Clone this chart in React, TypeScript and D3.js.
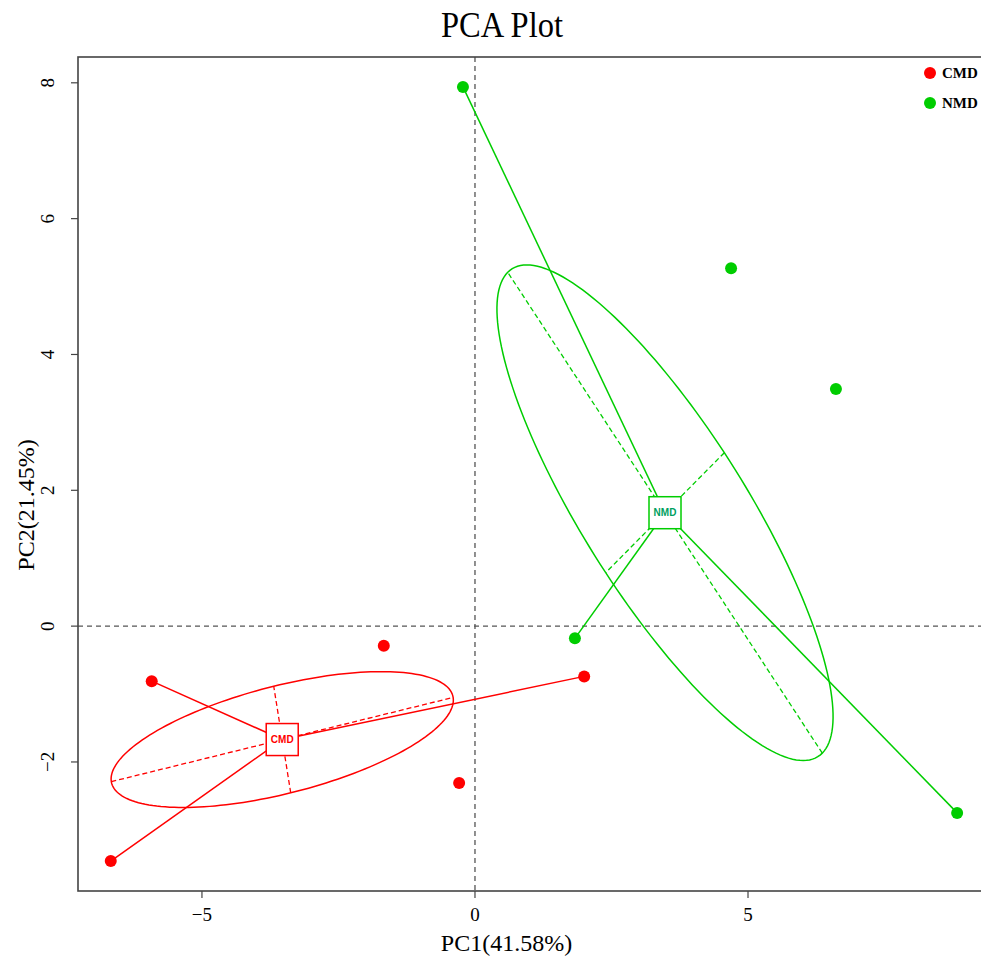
import React from "react";
import * as d3 from "d3";

// ---- data (PC1, PC2) ----
const groups = ["CMD", "NMD"];
const groupColors = ["#FF0000", "#00CD00"];
const labelColors = ["#FF0000", "#00A060"];

// samples: [PC1, PC2, connected-to-centroid flag]
const cmdSamples: [number, number, boolean][] = [
  [-5.92, -0.81, true],
  [-6.67, -3.46, true],
  [2.0, -0.74, true],
  [-1.67, -0.29, false],
  [-0.29, -2.31, false],
];
const nmdSamples: [number, number, boolean][] = [
  [-0.22, 7.94, true],
  [1.83, -0.18, true],
  [8.83, -2.75, true],
  [4.69, 5.27, false],
  [6.61, 3.49, false],
];

// ellipse: semi-major half-vector (data units) and semi-minor length
const cmdEllipse = { major: [3.13, 0.62], minor: 0.8 };
const nmdEllipse = { major: [-2.88, 3.54], minor: 1.4 };

const xTicks = [-5, 0, 5];
const yTicks = [-2, 0, 2, 4, 6, 8];
const xDomain = [-7.27, 9.45];
const yDomain = [-3.9, 8.38];

const title = "PCA Plot";
const xLabel = "PC1(41.58%)";
const yLabel = "PC2(21.45%)";

export default function App() {
  const W = 981;
  const H = 956;
  const left = 78, right = 991, top = 57, bottom = 891;
  const x = d3.scaleLinear().domain(xDomain).range([left, right]);
  const y = d3.scaleLinear().domain(yDomain).range([bottom, top]);

  const sets = [
    { name: groups[0], color: groupColors[0], lab: labelColors[0], samples: cmdSamples, ell: cmdEllipse },
    { name: groups[1], color: groupColors[1], lab: labelColors[1], samples: nmdSamples, ell: nmdEllipse },
  ];

  const line = d3.line<[number, number]>().x((d) => x(d[0])).y((d) => y(d[1]));

  return (
    <svg width={W} height={H} style={{ display: "block", position: "absolute", left: 0, top: 0 }}>
      <rect x={0} y={0} width={W} height={H} fill="#fff" />
      <defs>
        <clipPath id="clip">
          <rect x={left} y={top} width={right - left} height={bottom - top} />
        </clipPath>
      </defs>
      <text x={502} y={37} textAnchor="middle" fontFamily="Liberation Serif, Times New Roman, serif" fontSize={35} textLength={122} lengthAdjust="spacingAndGlyphs">
        {title}
      </text>

      {/* zero lines */}
      <g clipPath="url(#clip)">
        <line x1={x(0)} x2={x(0)} y1={top} y2={bottom} stroke="#555" strokeWidth={1.3} strokeDasharray="5,4" />
        <line x1={left} x2={right} y1={y(0)} y2={y(0)} stroke="#555" strokeWidth={1.3} strokeDasharray="5,4" />

        {sets.map((s) => {
          const conn = s.samples.filter((d) => d[2]);
          const cx = d3.mean(conn, (d) => d[0]) as number;
          const cy = d3.mean(conn, (d) => d[1]) as number;
          const [mx, my] = s.ell.major;
          const a = Math.hypot(mx, my);
          const ux = mx / a, uy = my / a;
          const vx = -uy, vy = ux;
          const b = s.ell.minor;
          const pts: [number, number][] = d3.range(0, 361, 2).map((deg) => {
            const t = (deg * Math.PI) / 180;
            return [cx + a * ux * Math.cos(t) + b * vx * Math.sin(t), cy + a * uy * Math.cos(t) + b * vy * Math.sin(t)];
          });
          return (
            <g key={s.name}>
              <path d={line(pts) || ""} fill="none" stroke={s.color} strokeWidth={1.5} />
              <path d={line([[cx - mx, cy - my], [cx + mx, cy + my]]) || ""} stroke={s.color} strokeWidth={1.3} strokeDasharray="5,3" />
              <path d={line([[cx - b * vx, cy - b * vy], [cx + b * vx, cy + b * vy]]) || ""} stroke={s.color} strokeWidth={1.3} strokeDasharray="5,3" />
              {conn.map((d, i) => (
                <line key={i} x1={x(cx)} y1={y(cy)} x2={x(d[0])} y2={y(d[1])} stroke={s.color} strokeWidth={1.5} />
              ))}
              <rect x={x(cx) - 16} y={y(cy) - 16} width={32} height={32} fill="#fff" stroke={s.color} strokeWidth={1.5} />
              <text x={x(cx)} y={y(cy) + 3.5} textAnchor="middle" fontFamily="Liberation Sans, Arial, sans-serif" fontWeight="bold" fontSize={10} fill={s.lab}>
                {s.name}
              </text>
              {s.samples.map((d, i) => (
                <circle key={i} cx={x(d[0])} cy={y(d[1])} r={6} fill={s.color} />
              ))}
            </g>
          );
        })}
      </g>

      {/* frame */}
      <rect x={left} y={top} width={right - left} height={bottom - top} fill="none" stroke="#444" strokeWidth={1.6} />

      {/* x axis ticks */}
      {xTicks.map((t) => (
        <g key={t}>
          <line x1={x(t)} x2={x(t)} y1={bottom} y2={bottom + 7} stroke="#444" strokeWidth={1.2} />
          <text x={x(t)} y={bottom + 30} textAnchor="middle" fontFamily="Liberation Serif, Times New Roman, serif" fontSize={19}>
            {t < 0 ? "\u2212" + Math.abs(t) : String(t)}
          </text>
        </g>
      ))}
      {yTicks.map((t) => (
        <g key={t}>
          <line x1={left - 7} x2={left} y1={y(t)} y2={y(t)} stroke="#444" strokeWidth={1.2} />
          <text transform={`translate(${left - 24},${y(t)}) rotate(-90)`} textAnchor="middle" fontFamily="Liberation Serif, Times New Roman, serif" fontSize={19}>
            {t < 0 ? "\u2212" + Math.abs(t) : String(t)}
          </text>
        </g>
      ))}

      <text x={(left + right) / 2 - 28} y={951} textAnchor="middle" fontFamily="Liberation Serif, Times New Roman, serif" fontSize={24}>
        {xLabel}
      </text>
      <text transform={`translate(34,${505}) rotate(-90)`} textAnchor="middle" fontFamily="Liberation Serif, Times New Roman, serif" fontSize={24}>
        {yLabel}
      </text>

      {/* legend */}
      {groups.map((g, i) => (
        <g key={g}>
          <circle cx={930} cy={73 + i * 30} r={6} fill={groupColors[i]} />
          <text x={942} y={78 + i * 30} fontFamily="Liberation Serif, Times New Roman, serif" fontWeight="bold" fontSize={15}>
            {g}
          </text>
        </g>
      ))}
    </svg>
  );
}
